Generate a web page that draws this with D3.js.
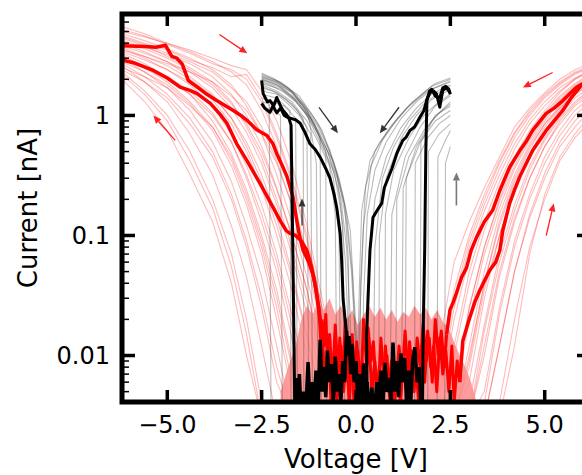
<!DOCTYPE html>
<html><head><meta charset="utf-8">
<script src="https://cdn.jsdelivr.net/npm/d3@7"></script>
<style>html,body{margin:0;padding:0;background:#fff;overflow:hidden}text{font-family:"DejaVu Sans",sans-serif;fill:#000}</style>
</head><body><svg id="c" width="582" height="475"></svg>
<script>
// ---------------- DATA ----------------
const xTicks = [-5, -2.5, 0, 2.5, 5];
const yMajorTicks = [0.01, 0.1, 1];
const yTickLabels = ["0.01", "0.1", "1"];
const xLabel = "Voltage [V]";
const yLabel = "Current [nA]";

// thin red traces, negative side (currents on a shared voltage grid)
const redLeftV = [-6.2, -5.6, -5.0, -4.4, -3.8, -3.3, -2.9, -2.5, -2.1, -1.7, -1.3, -0.9, -0.5, -0.1];
const redLeftTraces = [
  [2.0, 1.3, 0.75, 0.32, 0.13, 0.04, 0.01, 0.003],
  [2.3, 1.6, 1.0, 0.5, 0.2, 0.07, 0.02, 0.004, 0.003],
  [2.6, 1.9, 1.3, 0.7, 0.32, 0.12, 0.045, 0.012, 0.003],
  [2.4, 1.9, 1.4, 0.85, 0.45, 0.2, 0.08, 0.025, 0.006, 0.003],
  [3.0, 2.3, 1.7, 1.1, 0.6, 0.28, 0.12, 0.045, 0.012, 0.003],
  [2.8, 2.3, 1.8, 1.25, 0.75, 0.38, 0.18, 0.07, 0.02, 0.005, 0.003],
  [3.3, 2.7, 2.1, 1.5, 0.9, 0.48, 0.24, 0.1, 0.035, 0.009, 0.003],
  [3.1, 2.6, 2.1, 1.6, 1.05, 0.6, 0.32, 0.15, 0.06, 0.018, 0.004, 0.003],
  [3.6, 3.0, 2.4, 1.8, 1.2, 0.7, 0.38, 0.18, 0.07, 0.022, 0.006, 0.003],
  [3.4, 2.9, 2.4, 1.9, 1.35, 0.85, 0.5, 0.25, 0.1, 0.035, 0.01, 0.003],
  [4.0, 3.4, 2.8, 2.1, 1.5, 0.95, 0.55, 0.28, 0.12, 0.045, 0.014, 0.004, 0.003],
  [3.8, 3.3, 2.8, 2.3, 1.7, 1.15, 0.72, 0.4, 0.18, 0.07, 0.022, 0.006, 0.003],
  [4.4, 3.8, 3.1, 2.5, 1.9, 1.3, 0.8, 0.45, 0.2, 0.08, 0.028, 0.008, 0.003],
  [4.2, 3.7, 3.2, 2.7, 2.1, 1.5, 1.0, 0.55, 0.25, 0.1, 0.035, 0.01, 0.003],
  [4.8, 4.2, 3.6, 3.0, 2.4, 1.8, 1.2, 0.7, 0.32, 0.13, 0.045, 0.013, 0.004, 0.003],
  [5.0, 4.5, 4.0, 3.4, 2.8, 2.3, 1.8, 1.1, 0.55, 0.22, 0.07, 0.02, 0.005, 0.003],
  [5.5, 4.8, 4.0, 3.5, 3.0, 2.6, 2.4, 1.6, 0.9, 0.4, 0.12, 0.03, 0.008, 0.003],
  [3.5, 3.1, 2.7, 2.3, 1.9, 1.45, 1.1, 0.7, 0.4, 0.18, 0.07, 0.022, 0.006, 0.003],
  [2.5, 2.1, 1.7, 1.2, 0.8, 0.45, 0.22, 0.09, 0.03, 0.008, 0.003],
  [4.6, 4.0, 3.5, 2.9, 2.5, 2.1, 2.2, 1.4, 0.7, 0.3, 0.1, 0.025, 0.006, 0.003],
  [2.2, 1.5, 0.9, 0.42, 0.17, 0.055, 0.015, 0.003],
  [2.7, 2.1, 1.5, 0.95, 0.5, 0.22, 0.09, 0.03, 0.008, 0.003],
  [3.2, 2.5, 1.9, 1.3, 0.8, 0.42, 0.2, 0.08, 0.025, 0.006, 0.003],
  [3.7, 3.1, 2.6, 2.0, 1.45, 0.95, 0.6, 0.32, 0.14, 0.05, 0.015, 0.004, 0.003],
  [4.1, 3.6, 3.0, 2.4, 1.8, 1.25, 0.85, 0.5, 0.24, 0.1, 0.035, 0.009, 0.003],
  [4.5, 3.9, 3.3, 2.8, 2.3, 1.7, 1.3, 0.8, 0.42, 0.18, 0.06, 0.016, 0.004, 0.003],
  [5.2, 4.6, 3.9, 3.3, 2.7, 2.4, 2.0, 1.3, 0.65, 0.28, 0.09, 0.025, 0.006, 0.003],
  [3.0, 2.5, 2.0, 1.5, 1.0, 0.6, 0.3, 0.13, 0.05, 0.014, 0.003]
];

// thin red traces, positive side
const redRightV = [6.2, 5.8, 5.4, 5.0, 4.6, 4.2, 3.8, 3.4, 3.0, 2.6, 2.2, 1.8];
const redRightTraces = [
  [2.7, 2.4, 2.0, 1.55, 1.15, 0.8, 0.45, 0.25, 0.13, 0.06, 0.012, 0.003],
  [2.5, 2.2, 1.8, 1.4, 1.0, 0.65, 0.36, 0.18, 0.08, 0.025, 0.005, 0.003],
  [2.3, 2.0, 1.6, 1.2, 0.85, 0.52, 0.28, 0.13, 0.05, 0.012, 0.003],
  [2.2, 1.85, 1.45, 1.05, 0.7, 0.42, 0.2, 0.08, 0.025, 0.005, 0.003],
  [2.0, 1.7, 1.3, 0.9, 0.58, 0.32, 0.15, 0.05, 0.012, 0.003],
  [1.9, 1.55, 1.15, 0.8, 0.48, 0.25, 0.1, 0.03, 0.006, 0.003],
  [1.7, 1.4, 1.0, 0.65, 0.38, 0.18, 0.07, 0.018, 0.004, 0.003],
  [1.6, 1.25, 0.9, 0.55, 0.3, 0.13, 0.045, 0.01, 0.003],
  [1.4, 1.1, 0.75, 0.45, 0.22, 0.09, 0.025, 0.005, 0.003],
  [1.2, 0.9, 0.6, 0.33, 0.15, 0.05, 0.012, 0.003],
  [0.9, 0.65, 0.42, 0.2, 0.08, 0.02, 0.004, 0.003],
  [2.6, 2.3, 1.9, 1.5, 1.1, 0.72, 0.42, 0.22, 0.1, 0.035, 0.008, 0.003],
  [2.1, 1.75, 1.35, 0.95, 0.62, 0.36, 0.17, 0.07, 0.02, 0.004, 0.003],
  [1.8, 1.5, 1.15, 0.85, 0.55, 0.3, 0.13, 0.04, 0.009, 0.003],
  [1.5, 1.2, 0.85, 0.55, 0.3, 0.14, 0.05, 0.012, 0.003],
  [2.4, 2.0, 1.55, 1.1, 0.75, 0.45, 0.24, 0.11, 0.04, 0.01, 0.003],
  [1.1, 0.8, 0.55, 0.3, 0.14, 0.05, 0.012, 0.003],
  [2.0, 1.6, 1.2, 0.85, 0.52, 0.28, 0.12, 0.04, 0.01, 0.003],
  [1.0, 0.7, 0.45, 0.22, 0.07, 0.012, 0.003],
  [2.55, 2.25, 1.85, 1.45, 1.05, 0.7, 0.4, 0.2, 0.09, 0.03, 0.006, 0.003],
  [2.15, 1.8, 1.4, 1.0, 0.66, 0.38, 0.19, 0.08, 0.025, 0.005, 0.003],
  [1.85, 1.5, 1.1, 0.75, 0.45, 0.24, 0.1, 0.035, 0.008, 0.003],
  [1.3, 1.0, 0.68, 0.4, 0.2, 0.08, 0.022, 0.004, 0.003],
  [2.35, 2.05, 1.7, 1.3, 0.92, 0.58, 0.32, 0.16, 0.065, 0.02, 0.004, 0.003],
  [1.65, 1.3, 0.95, 0.62, 0.35, 0.16, 0.06, 0.016, 0.003]
];

// dense noise floor band of the red sweeps
const bandV = [-2.0,-1.8,-1.6,-1.45,-1.3,-1.15,-1.0,-0.85,-0.7,-0.55,-0.4,-0.25,-0.1,0.05,0.2,0.35,0.5,0.65,0.8,0.95,1.1,1.25,1.4,1.55,1.7,1.85,2.0,2.15,2.3,2.45,2.6,2.75,2.9,3.05,3.2];
const bandTop = [0.005,0.008,0.012,0.02,0.026,0.022,0.028,0.024,0.03,0.022,0.026,0.02,0.024,0.018,0.022,0.026,0.021,0.025,0.02,0.024,0.019,0.023,0.021,0.026,0.022,0.025,0.02,0.024,0.019,0.017,0.013,0.01,0.008,0.006,0.004];

// thin grey traces (±2.5 V sweeps), [V, I] points
const greyLeftTraces = [
  [[-2.5,2.2],[-2.1,1.95],[-1.7,1.6],[-1.3,1.1],[-0.9,0.6],[-0.6,0.42],[-0.35,0.22],[-0.15,0.11],[-0.05,0.03],[0.05,0.01],[0.15,0.003]],
  [[-2.5,2.0],[-2.1,1.8],[-1.7,1.45],[-1.3,1.0],[-0.9,0.55],[-0.6,0.35],[-0.4,0.2],[-0.25,0.08],[-0.15,0.02],[-0.1,0.003]],
  [[-2.5,1.8],[-2.1,1.6],[-1.7,1.3],[-1.3,0.9],[-1.0,0.6],[-0.7,0.38],[-0.55,0.15],[-0.5,0.003]],
  [[-2.5,1.6],[-2.1,1.5],[-1.8,1.25],[-1.5,1.0],[-1.2,0.7],[-1.15,0.003]],
  [[-2.5,1.4],[-2.2,1.3],[-1.9,1.2],[-1.6,0.95],[-1.55,0.003]],
  [[-2.5,1.9],[-2.2,1.75],[-1.9,1.55],[-1.6,1.3],[-1.3,1.0],[-1.0,0.7],[-0.8,0.5],[-0.78,0.003]],
  [[-2.5,1.2],[-2.2,1.1],[-2.0,1.0],[-1.95,0.003]],
  [[-2.5,2.1],[-2.0,1.85],[-1.6,1.5],[-1.2,1.05],[-0.9,0.75],[-0.7,0.5],[-0.5,0.32],[-0.35,0.12],[-0.3,0.003]],
  [[-2.5,1.7],[-2.1,1.55],[-1.7,1.25],[-1.4,0.95],[-1.38,0.003]],
  [[-2.5,1.5],[-2.1,1.4],[-1.75,1.1],[-1.72,0.003]],
  [[-2.5,2.0],[-2.0,1.75],[-1.5,1.3],[-1.1,0.85],[-0.95,0.65],[-0.92,0.003]],
  [[-2.5,1.85],[-2.0,1.65],[-1.6,1.35],[-1.2,0.95],[-0.8,0.55],[-0.5,0.3],[-0.3,0.18],[-0.2,0.06],[-0.18,0.003]],
  [[-2.5,1.3],[-2.3,1.25],[-2.25,0.003]],
  [[-2.5,2.15],[-2.0,1.9],[-1.5,1.45],[-1.0,0.85],[-0.7,0.52],[-0.45,0.3],[-0.25,0.15],[-0.1,0.05],[0.0,0.012],[0.05,0.003]],
  [[-2.5,2.05],[-2.1,1.85],[-1.7,1.55],[-1.4,1.2],[-1.1,0.8],[-0.8,0.5],[-0.6,0.3],[-0.45,0.1],[-0.4,0.003]],
  [[-2.5,1.95],[-2.0,1.7],[-1.5,1.25],[-1.25,0.95],[-1.05,0.4],[-1.0,0.003]],
  [[-2.5,2.25],[-2.2,2.05],[-1.8,1.7],[-1.4,1.25],[-1.0,0.8],[-0.7,0.5],[-0.45,0.28],[-0.25,0.13],[-0.12,0.05],[-0.05,0.02],[0.02,0.006],[0.08,0.003]],
  [[-2.5,2.1],[-2.1,1.9],[-1.7,1.55],[-1.3,1.1],[-1.0,0.75],[-0.75,0.5],[-0.55,0.3],[-0.4,0.16],[-0.28,0.06],[-0.22,0.02],[-0.2,0.003]],
  [[-2.5,1.75],[-2.2,1.6],[-1.85,1.35],[-1.55,1.1],[-1.3,0.8],[-1.25,0.003]]
];
const greyRightTraces = [
  [[0.0,0.003],[0.05,0.012],[0.1,0.05],[0.15,0.16],[0.37,0.42],[0.63,0.6],[1.0,0.85],[1.35,1.15],[1.8,1.55],[2.1,1.85],[2.5,2.05]],
  [[0.15,0.003],[0.2,0.03],[0.3,0.15],[0.5,0.35],[0.8,0.6],[1.2,0.95],[1.6,1.3],[2.0,1.65],[2.5,1.9]],
  [[0.45,0.003],[0.5,0.08],[0.7,0.3],[1.0,0.55],[1.4,0.9],[1.8,1.25],[2.2,1.55],[2.5,1.75]],
  [[0.75,0.003],[0.78,0.15],[1.0,0.35],[1.4,0.65],[1.8,1.0],[2.2,1.3],[2.5,1.5]],
  [[1.05,0.003],[1.08,0.2],[1.4,0.45],[1.8,0.75],[2.2,1.05],[2.5,1.25]],
  [[1.3,0.003],[1.33,0.3],[1.7,0.6],[2.1,0.9],[2.5,1.1]],
  [[1.55,0.003],[1.57,0.4],[1.9,0.65],[2.2,0.85],[2.5,1.0]],
  [[1.9,0.003],[1.92,0.5],[2.2,0.7],[2.5,0.85]],
  [[2.15,0.003],[2.17,0.45],[2.35,0.6],[2.5,0.75]],
  [[0.3,0.003],[0.35,0.06],[0.5,0.2],[0.8,0.45],[1.2,0.8],[1.6,1.15],[2.0,1.5],[2.5,1.8]],
  [[0.6,0.003],[0.62,0.1],[0.8,0.3],[1.2,0.65],[1.6,1.0],[2.0,1.35],[2.5,1.65]],
  [[1.2,0.003],[1.25,0.25],[1.6,0.55],[2.0,0.9],[2.5,1.3]],
  [[2.35,0.003],[2.37,0.4],[2.5,0.55]],
  [[0.9,0.003],[0.95,0.15],[1.3,0.45],[1.7,0.8],[2.1,1.2],[2.5,1.45]],
  [[0.1,0.003],[0.12,0.04],[0.25,0.25],[0.5,0.5],[0.9,0.8],[1.4,1.2],[1.9,1.6],[2.5,1.95]],
  [[1.7,0.003],[1.72,0.6],[2.1,1.0],[2.5,1.2]],
  [[0.05,0.003],[0.1,0.02],[0.2,0.12],[0.4,0.38],[0.7,0.62],[1.1,0.95],[1.5,1.3],[2.0,1.75],[2.5,2.0]]
];

// bold red sweeps
const redBold1 = [[-6.2,3.8],[-5.6,3.75],[-5.3,3.7],[-5.05,3.85],[-4.88,3.1],[-4.75,3.0],[-4.61,2.7],[-4.44,1.95],[-4.18,1.7],[-3.95,1.5],[-3.69,1.33],[-3.45,1.2],[-3.25,1.1],[-3.05,1.0],[-2.89,0.91],[-2.63,0.76],[-2.36,0.68],[-2.2,0.58],[-2.10,0.48],[-1.95,0.38],[-1.83,0.31],[-1.67,0.21],[-1.58,0.14],[-1.5,0.1],[-1.4,0.075],[-1.25,0.06],[-1.12,0.045],[-1.02,0.03],[-0.96,0.02],[-0.92,0.012],[-0.9,0.007]];
const redBold2 = [[-6.2,2.9],[-5.9,2.75],[-5.37,2.37],[-5.0,2.05],[-4.66,1.72],[-4.4,1.62],[-4.21,1.52],[-3.86,1.26],[-3.6,1.02],[-3.42,0.86],[-3.16,0.58],[-2.89,0.42],[-2.54,0.27],[-2.2,0.172],[-2.01,0.133],[-1.85,0.11],[-1.75,0.104],[-1.6,0.1],[-1.45,0.09],[-1.3,0.075],[-1.18,0.055],[-1.08,0.038],[-0.98,0.024],[-0.9,0.015],[-0.86,0.009]];
const redBold3 = [[2.40,0.015],[2.49,0.024],[2.58,0.028],[2.66,0.033],[2.8,0.045],[2.93,0.054],[3.05,0.075],[3.19,0.096],[3.4,0.13],[3.62,0.162],[3.81,0.237],[4.07,0.37],[4.34,0.51],[4.5,0.6],[4.68,0.75],[5.04,1.04],[5.25,1.15],[5.48,1.33],[5.84,1.72],[6.2,2.0]];
const redBold4 = [[2.75,0.006],[2.83,0.0133],[3.02,0.021],[3.15,0.028],[3.28,0.035],[3.54,0.051],[3.7,0.06],[3.81,0.075],[3.89,0.11],[4.07,0.185],[4.2,0.24],[4.34,0.31],[4.68,0.51],[5.04,0.75],[5.25,0.9],[5.48,1.1],[5.7,1.4],[5.97,1.78],[6.2,2.0]];
const redNoiseA = [[-0.9,0.02],[-0.85,0.012],[-0.8,0.022],[-0.75,0.008],[-0.7,0.015],[-0.62,0.006],[-0.55,0.018],[-0.48,0.007],[-0.4,0.012],[-0.33,0.005],[-0.25,0.01],[-0.18,0.004],[-0.1,0.015],[-0.03,0.006],[0.05,0.011],[0.12,0.004],[0.2,0.02],[0.28,0.008],[0.35,0.012],[0.42,0.005],[0.5,0.009],[0.58,0.004],[0.66,0.014],[0.74,0.006],[0.82,0.01],[0.9,0.004],[0.98,0.008],[1.06,0.005],[1.14,0.012],[1.22,0.006],[1.3,0.016],[1.38,0.007],[1.46,0.011],[1.54,0.005],[1.62,0.014],[1.7,0.008],[1.78,0.018],[1.86,0.009],[1.94,0.014],[2.02,0.006],[2.1,0.02],[2.18,0.01],[2.26,0.016],[2.34,0.008],[2.4,0.015]];
const redNoiseB = [[-0.86,0.009],[-0.8,0.005],[-0.72,0.011],[-0.66,0.004],[-0.58,0.009],[-0.5,0.004],[-0.43,0.014],[-0.36,0.006],[-0.28,0.02],[-0.2,0.007],[-0.12,0.009],[-0.05,0.004],[0.02,0.013],[0.1,0.006],[0.16,0.009],[0.24,0.004],[0.32,0.017],[0.4,0.009],[0.46,0.013],[0.54,0.005],[0.62,0.008],[0.7,0.004],[0.78,0.012],[0.86,0.005],[0.94,0.009],[1.02,0.004],[1.1,0.007],[1.18,0.004],[1.26,0.01],[1.34,0.005],[1.42,0.013],[1.5,0.006],[1.58,0.009],[1.66,0.004],[1.74,0.012],[1.82,0.006],[1.9,0.016],[1.98,0.008],[2.06,0.012],[2.14,0.005],[2.22,0.014],[2.3,0.007],[2.38,0.011],[2.46,0.005],[2.54,0.012],[2.6,0.004],[2.68,0.009],[2.75,0.006]];

// bold black sweeps
const blackBold1 = [[-2.5,1.96],[-2.46,1.52],[-2.35,1.3],[-2.28,1.33],[-2.18,1.2],[-2.1,1.41],[-2.0,1.2],[-1.93,1.1],[-1.84,1.02],[-1.78,0.95],[-1.72,0.83],[-1.67,0.062],[-1.62,0.003]];
const blackBold2 = [[-2.5,1.26],[-2.42,1.15],[-2.28,1.06],[-2.2,1.2],[-2.1,1.05],[-2.0,1.15],[-1.9,1.0],[-1.8,0.96],[-1.6,0.92],[-1.48,0.86],[-1.35,0.72],[-1.22,0.58],[-1.08,0.52],[-0.95,0.45],[-0.8,0.36],[-0.69,0.30],[-0.58,0.22],[-0.51,0.17],[-0.42,0.104],[-0.38,0.062],[-0.34,0.029],[-0.25,0.015],[-0.22,0.01]];
const blackBold3 = [[0.3,0.003],[0.28,0.015],[0.37,0.075],[0.45,0.141],[0.55,0.16],[0.68,0.185],[0.75,0.25],[0.85,0.30],[0.95,0.36],[1.08,0.48],[1.24,0.62],[1.33,0.66],[1.43,0.75],[1.55,0.8],[1.69,0.96],[1.8,1.1],[1.87,1.33],[1.96,1.55],[2.05,1.6],[2.13,1.52],[2.22,1.17],[2.3,1.62],[2.4,1.7],[2.49,1.55]];
const blackBold4 = [[1.76,0.003],[1.78,0.016],[1.82,0.075],[1.85,0.5],[1.88,1.35],[1.95,1.6],[2.01,1.65],[2.1,1.45],[2.22,1.4],[2.3,1.7],[2.38,1.75],[2.46,1.65],[2.5,1.5]];
const blackNoise = [[-1.62,0.003],[-1.58,0.0065],[-1.55,0.003],[-1.5,0.007],[-1.46,0.0035],[-1.4,0.005],[-1.35,0.003],[-1.3,0.0055],[-1.27,0.0088],[-1.22,0.004],[-1.17,0.006],[-1.12,0.0035],[-1.06,0.0075],[-1.0,0.004],[-0.95,0.0135],[-0.9,0.005],[-0.85,0.008],[-0.8,0.0045],[-0.76,0.011],[-0.7,0.006],[-0.65,0.0085],[-0.6,0.004],[-0.55,0.0098],[-0.5,0.005],[-0.45,0.007],[-0.4,0.0042],[-0.35,0.009],[-0.3,0.006],[-0.25,0.016],[-0.22,0.012],[-0.18,0.0145],[-0.14,0.007],[-0.1,0.0125],[-0.05,0.006],[0.0,0.009],[0.05,0.004],[0.1,0.007],[0.15,0.0035],[0.2,0.0086],[0.25,0.004],[0.3,0.006],[0.35,0.003],[0.42,0.0054],[0.48,0.003],[0.55,0.006],[0.6,0.0035],[0.66,0.0075],[0.72,0.004],[0.77,0.0087],[0.82,0.005],[0.88,0.0065],[0.93,0.004],[0.98,0.0128],[1.03,0.005],[1.08,0.009],[1.13,0.0045],[1.19,0.0104],[1.24,0.006],[1.29,0.0095],[1.34,0.004],[1.4,0.0075],[1.45,0.004],[1.5,0.009],[1.56,0.0117],[1.62,0.006],[1.68,0.008],[1.73,0.003]];

// annotation arrows: [V_tail, I_tail, V_head, I_head]
const redArrows = [[-3.62,4.73,-2.88,3.29],[-4.79,0.62,-5.37,1.0],[5.21,2.28,4.42,1.71],[5.04,0.1,5.24,0.185]];
const blackArrows = [[-0.98,1.17,-0.48,0.71],[1.14,1.17,0.63,0.71],[-1.43,0.121,-1.43,0.203]];
const greyArrows = [[2.66,0.178,2.66,0.335]];

// ---------------- DRAW ----------------
const svg = d3.select("#c");
const L = 122, R = 590, T = 14, B = 402;
const x = d3.scaleLinear().domain([-6.2, 6.2]).range([L, R]);
const y = d3.scaleLog().domain([0.0041, 7]).range([B, T]);

svg.append("defs").append("clipPath").attr("id", "clip")
  .append("rect").attr("x", L).attr("y", T).attr("width", R - L).attr("height", B - T);
const g = svg.append("g").attr("clip-path", "url(#clip)");
const line = d3.line().x(d => x(d[0])).y(d => y(d[1]));

// thin red
redLeftTraces.forEach(t => g.append("path").attr("d", line(t.map((v, i) => [redLeftV[i], v])))
  .attr("fill", "none").attr("stroke", "rgba(255,0,0,0.27)").attr("stroke-width", 1.1));
redRightTraces.forEach(t => g.append("path").attr("d", line(t.map((v, i) => [redRightV[i], v])))
  .attr("fill", "none").attr("stroke", "rgba(255,0,0,0.27)").attr("stroke-width", 1.1));

// noise band
const area = d3.area().x(d => x(d[0])).y0(y(0.003)).y1(d => y(d[1]));
g.append("path").attr("d", area(bandV.map((v, i) => [v, bandTop[i]])))
  .attr("fill", "#ff8c8c").attr("opacity", 0.85);

// thin grey
greyLeftTraces.concat(greyRightTraces).forEach(t => g.append("path").attr("d", line(t))
  .attr("fill", "none").attr("stroke", "rgba(60,60,60,0.35)").attr("stroke-width", 1.1));

// bold red
[redNoiseA, redNoiseB].forEach(t => g.append("path").attr("d", line(t))
  .attr("fill", "none").attr("stroke", "#ff0000").attr("stroke-width", 3).attr("stroke-linejoin", "round"));
[redBold1, redBold2, redBold3, redBold4].forEach(t => g.append("path").attr("d", line(t))
  .attr("fill", "none").attr("stroke", "#ff0000").attr("stroke-width", 3.5).attr("stroke-linejoin", "round"));

// bold black
g.append("path").attr("d", line(blackNoise)).attr("fill", "none").attr("stroke", "#000").attr("stroke-width", 3.5);
[blackBold1, blackBold2, blackBold3, blackBold4].forEach(t => g.append("path").attr("d", line(t))
  .attr("fill", "none").attr("stroke", "#000").attr("stroke-width", 3).attr("stroke-linejoin", "round"));

// arrows
function arrow(a, col, w) {
  const x1 = x(a[0]), y1 = y(a[1]), x2 = x(a[2]), y2 = y(a[3]);
  const ang = Math.atan2(y2 - y1, x2 - x1), hl = 8, hw = 3.5;
  const bx = x2 - hl * Math.cos(ang), by = y2 - hl * Math.sin(ang);
  svg.append("line").attr("x1", x1).attr("y1", y1).attr("x2", bx).attr("y2", by)
    .attr("stroke", col).attr("stroke-width", w);
  svg.append("path").attr("d", `M${x2},${y2}L${bx - hw * Math.sin(ang)},${by + hw * Math.cos(ang)}L${bx + hw * Math.sin(ang)},${by - hw * Math.cos(ang)}Z`)
    .attr("fill", col);
}
redArrows.forEach(a => arrow(a, "#ff2020", 1.3));
blackArrows.forEach(a => arrow(a, "#333", 1.3));
greyArrows.forEach(a => arrow(a, "#777", 1.6));

// axes
const ax = svg.append("g");
xTicks.forEach(v => {
  ax.append("line").attr("x1", x(v)).attr("x2", x(v)).attr("y1", B).attr("y2", B - 12).attr("stroke", "#000").attr("stroke-width", 3.5);
  ax.append("line").attr("x1", x(v)).attr("x2", x(v)).attr("y1", T).attr("y2", T + 12).attr("stroke", "#000").attr("stroke-width", 3.5);
  ax.append("text").attr("x", x(v)).attr("y", 433).attr("text-anchor", "middle").attr("font-size", 24)
    .text(d3.format(".1f")(v));
});
const minor = [];
[0.001, 0.01, 0.1, 1].forEach(d => [2,3,4,5,6,7,8,9].forEach(m => { const v = d * m; if (v >= 0.0041 && v <= 7) minor.push(v); }));
minor.forEach(v => {
  ax.append("line").attr("x1", L).attr("x2", L + 7).attr("y1", y(v)).attr("y2", y(v)).attr("stroke", "#000").attr("stroke-width", 1.5);
  ax.append("line").attr("x1", R).attr("x2", R - 7).attr("y1", y(v)).attr("y2", y(v)).attr("stroke", "#000").attr("stroke-width", 1.5);
});
yMajorTicks.forEach((v, i) => {
  ax.append("line").attr("x1", L).attr("x2", L + 13).attr("y1", y(v)).attr("y2", y(v)).attr("stroke", "#000").attr("stroke-width", 3.5);
  ax.append("line").attr("x1", R).attr("x2", R - 13).attr("y1", y(v)).attr("y2", y(v)).attr("stroke", "#000").attr("stroke-width", 3.5);
  ax.append("text").attr("x", 110).attr("y", y(v)).attr("dy", "0.36em").attr("text-anchor", "end").attr("font-size", 24).text(yTickLabels[i]);
});
ax.append("rect").attr("x", L).attr("y", T).attr("width", R - L).attr("height", B - T)
  .attr("fill", "none").attr("stroke", "#000").attr("stroke-width", 5);

svg.append("text").attr("x", (L + R) / 2).attr("y", 468).attr("text-anchor", "middle").attr("font-size", 26).text(xLabel);
svg.append("text").attr("transform", `translate(37,${(T + B) / 2}) rotate(-90)`).attr("text-anchor", "middle").attr("font-size", 26).text(yLabel);
</script></body></html>
